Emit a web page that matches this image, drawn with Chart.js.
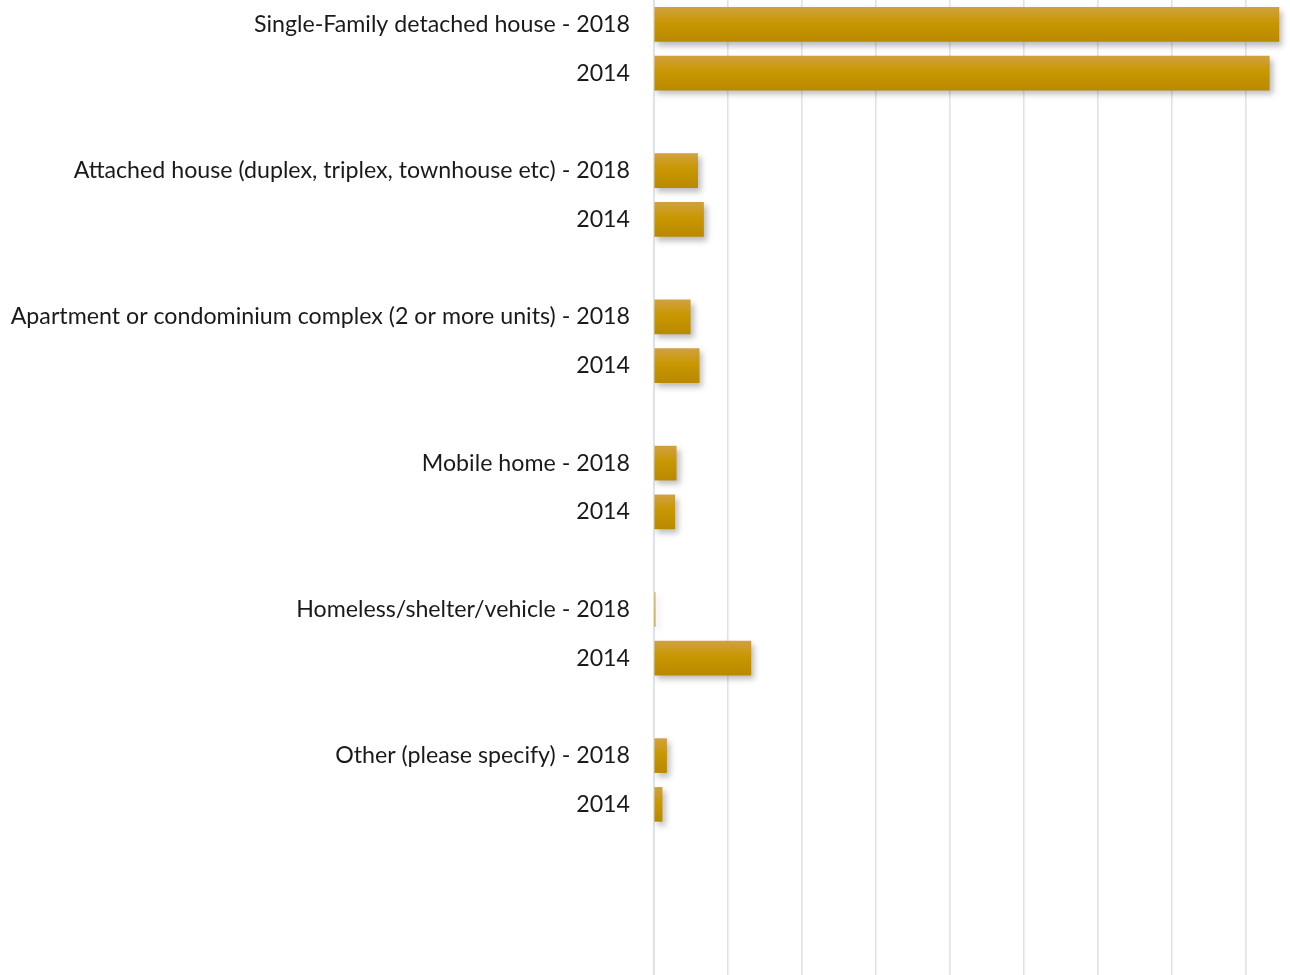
<!DOCTYPE html>
<html>
<head>
<meta charset="utf-8">
<script src="https://cdn.jsdelivr.net/npm/chart.js@4/dist/chart.umd.min.js"></script>
<style>
  html, body { margin: 0; padding: 0; background: #ffffff; overflow: hidden; }
  #wrap { position: relative; width: 1290px; height: 975px; }
</style>
</head>
<body>
<div id="wrap"><canvas id="c"></canvas></div>
<script>
// ---- data ----
const groups = [
  'Single-Family detached house',
  'Attached house (duplex, triplex, townhouse etc)',
  'Apartment or condominium complex (2 or more units)',
  'Mobile home',
  'Homeless/shelter/vehicle',
  'Other (please specify)'
];
const years = ['2018', '2014'];
const values2018 = [84.5, 5.9, 4.9, 3.0, 0.15, 1.7];
const values2014 = [83.2, 6.7, 6.1, 2.8, 13.1, 1.1];
const gridTicks = [0, 10, 20, 30, 40, 50, 60, 70, 80];
const trailingEmptySlots = 3;

// build category table (one slot per bar, blank slot between groups)
const labels = [];
const values = [];
groups.forEach((g, i) => {
  if (i > 0) { labels.push(''); values.push(null); }
  labels.push(g + ' - ' + years[0]); values.push(values2018[i]);
  labels.push(years[1]); values.push(values2014[i]);
});
for (let k = 0; k < trailingEmptySlots; k++) { labels.push(''); values.push(null); }

function barFill(ctx) {
  const chart = ctx.chart;
  const ys = chart.scales && chart.scales.y;
  if (!ys || ctx.type !== 'data' || !chart.chartArea) return '#c99700';
  const c = ys.getPixelForValue(ctx.dataIndex);
  const half = 17;
  const g = chart.ctx.createLinearGradient(0, c - half, 0, c + half);
  g.addColorStop(0, '#d0a13f');
  g.addColorStop(0.45, '#c99700');
  g.addColorStop(1, '#b98900');
  return g;
}

const shadowPlugin = {
  id: 'barShadow',
  beforeDatasetsDraw(chart) {
    const ctx = chart.ctx;
    ctx.save();
    ctx.shadowColor = 'rgba(60,60,70,0.35)';
    ctx.shadowBlur = 6;
    ctx.shadowOffsetX = 3;
    ctx.shadowOffsetY = 4;
  },
  afterDatasetsDraw(chart) {
    chart.ctx.restore();
  }
};

new Chart(document.getElementById('c'), {
  type: 'bar',
  data: {
    labels: labels,
    datasets: [{
      data: values,
      backgroundColor: barFill,
      borderWidth: 0,
      barThickness: 34
    }]
  },
  options: {
    indexAxis: 'y',
    responsive: true,
    maintainAspectRatio: false,
    animation: false,
    layout: { padding: 0 },
    plugins: { legend: { display: false }, tooltip: { enabled: false } },
    scales: {
      x: {
        min: 0,
        max: 86,
        afterBuildTicks(scale) {
          scale.ticks = gridTicks.map(v => ({ value: v }));
        },
        afterFit(scale) { scale.height = 0; scale.paddingLeft = 0; scale.paddingRight = 0; },
        ticks: { display: false },
        grid: { color: '#dfe2ea', lineWidth: 1.6, drawTicks: false },
        border: { display: false }
      },
      y: {
        afterFit(scale) {
          scale.width = 654;
          scale.paddingTop = 0;
          scale.paddingBottom = 0;
        },
        ticks: {
          autoSkip: false,
          padding: 24,
          color: '#1a1a1a',
          font: { family: 'Lato', size: 23.2 }
        },
        grid: { display: false, drawTicks: false },
        border: { display: true, color: '#dfe2ea', width: 2 }
      }
    }
  },
  plugins: [shadowPlugin]
});
</script>
</body>
</html>
